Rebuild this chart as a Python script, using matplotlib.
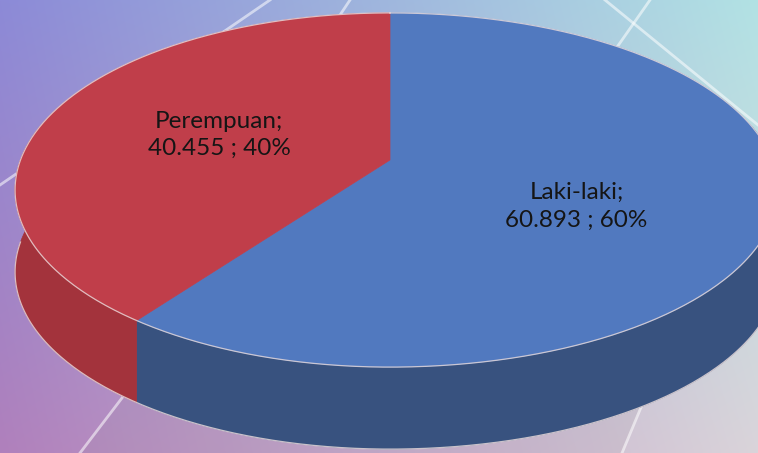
import numpy as np
import matplotlib.pyplot as plt
from matplotlib.patches import Polygon

# data
labels = ["Laki-laki", "Perempuan"]
values = [60893, 40455]
top_colors = ["#5179BF", "#C03E4A"]
side_colors = ["#38527F", "#A3333C"]

W, H = 758, 453
cx, cy = 390, 160             # centre of the pie top (screen px)
a_left, a_right = 369.5, 382  # half widths
b, k = 172, 0.1695            # half height + perspective factor
depth = 82


def project(theta, r=1.0):
    # theta measured clockwise from 12 o'clock
    X = r * np.sin(theta)
    Y = -r * np.cos(theta)
    w = 1 / (1 - k * Y)
    a = np.where(X >= 0, a_right, a_left)
    return cx + a * X * w, cy + b * Y * w


fig = plt.figure(figsize=(W / 100, H / 100), dpi=100)
ax = fig.add_axes([0, 0, 1, 1])
ax.set_xlim(0, W)
ax.set_ylim(H, 0)
ax.axis("off")

# background gradient (4 corners)
tl = np.array([140, 138, 215]) / 255
tr = np.array([178, 226, 228]) / 255
bl = np.array([176, 128, 188]) / 255
br = np.array([218, 212, 218]) / 255
u = np.linspace(0, 1, W)[None, :, None]
v = np.linspace(0, 1, H)[:, None, None]
bg = (1 - v) * ((1 - u) * tl + u * tr) + v * ((1 - u) * bl + u * br)
ax.imshow(bg, extent=[0, W, H, 0], aspect="auto", zorder=0)

# faint panel below the pie
ax.add_patch(Polygon([(122, 398), (80, 453), (622, 453), (642, 405)], closed=True,
                     fc="#9a8f9a", alpha=0.12, ec="none", zorder=1))

# decorative light lines in the background
for (x0, y0, x1, y1) in [(270, 0, 0, 185), (350, 0, 330, 30), (605, 0, 758, 125),
                         (650, 0, 615, 50), (122, 398, 80, 453), (642, 405, 622, 453)]:
    ax.plot([x0, x1], [y0, y1], color="white", lw=2, alpha=0.55, zorder=1)

total = sum(values)
fracs = [v_ / total for v_ in values]
starts = np.cumsum([0] + fracs[:-1]) * 2 * np.pi
ends = starts + np.array(fracs) * 2 * np.pi

# side walls (only the front half is seen)
for s, e, col in zip(starts, ends, side_colors):
    lo = max(s, np.pi / 2 - 0.2)
    hi = min(e, 3 * np.pi / 2 + 0.2)
    if hi <= lo:
        continue
    t = np.linspace(lo, hi, 200)
    x, y = project(t)
    pts = np.column_stack([np.r_[x, x[::-1]], np.r_[y, y[::-1] + depth]])
    ax.add_patch(Polygon(pts, closed=True, fc=col, ec=col, lw=0.5, zorder=2))

# tops
for s, e, col in zip(starts, ends, top_colors):
    t = np.linspace(s, e, 300)
    x, y = project(t)
    pts = np.column_stack([np.r_[cx, x], np.r_[cy, y]])
    ax.add_patch(Polygon(pts, closed=True, fc=col, ec=col, lw=0.5, zorder=3))

# light rim
t = np.linspace(0, 2 * np.pi, 600)
x, y = project(t)
ax.plot(x, y, color="#EADCDC", lw=0.9, alpha=0.8, zorder=4)
t = np.linspace(np.pi / 2, 3 * np.pi / 2, 300)
x, y = project(t)
ax.plot(x, y + depth, color="#EADCDC", lw=0.9, alpha=0.8, zorder=4)

# data labels
label_dy = [19, 1]
for lab, val, f, s, e, dy in zip(labels, values, fracs, starts, ends, label_dy):
    lx, ly = project((s + e) / 2, 0.5)
    txt = f"{lab};\n{val:,}".replace(",", ".") + f" ; {round(f * 100):.0f}%"
    ax.text(lx, ly + dy, txt, ha="center", va="center", fontsize=17.5,
            family="Lato", color="#151515", linespacing=1.4, zorder=5)

fig.savefig("out.png", dpi=100)
